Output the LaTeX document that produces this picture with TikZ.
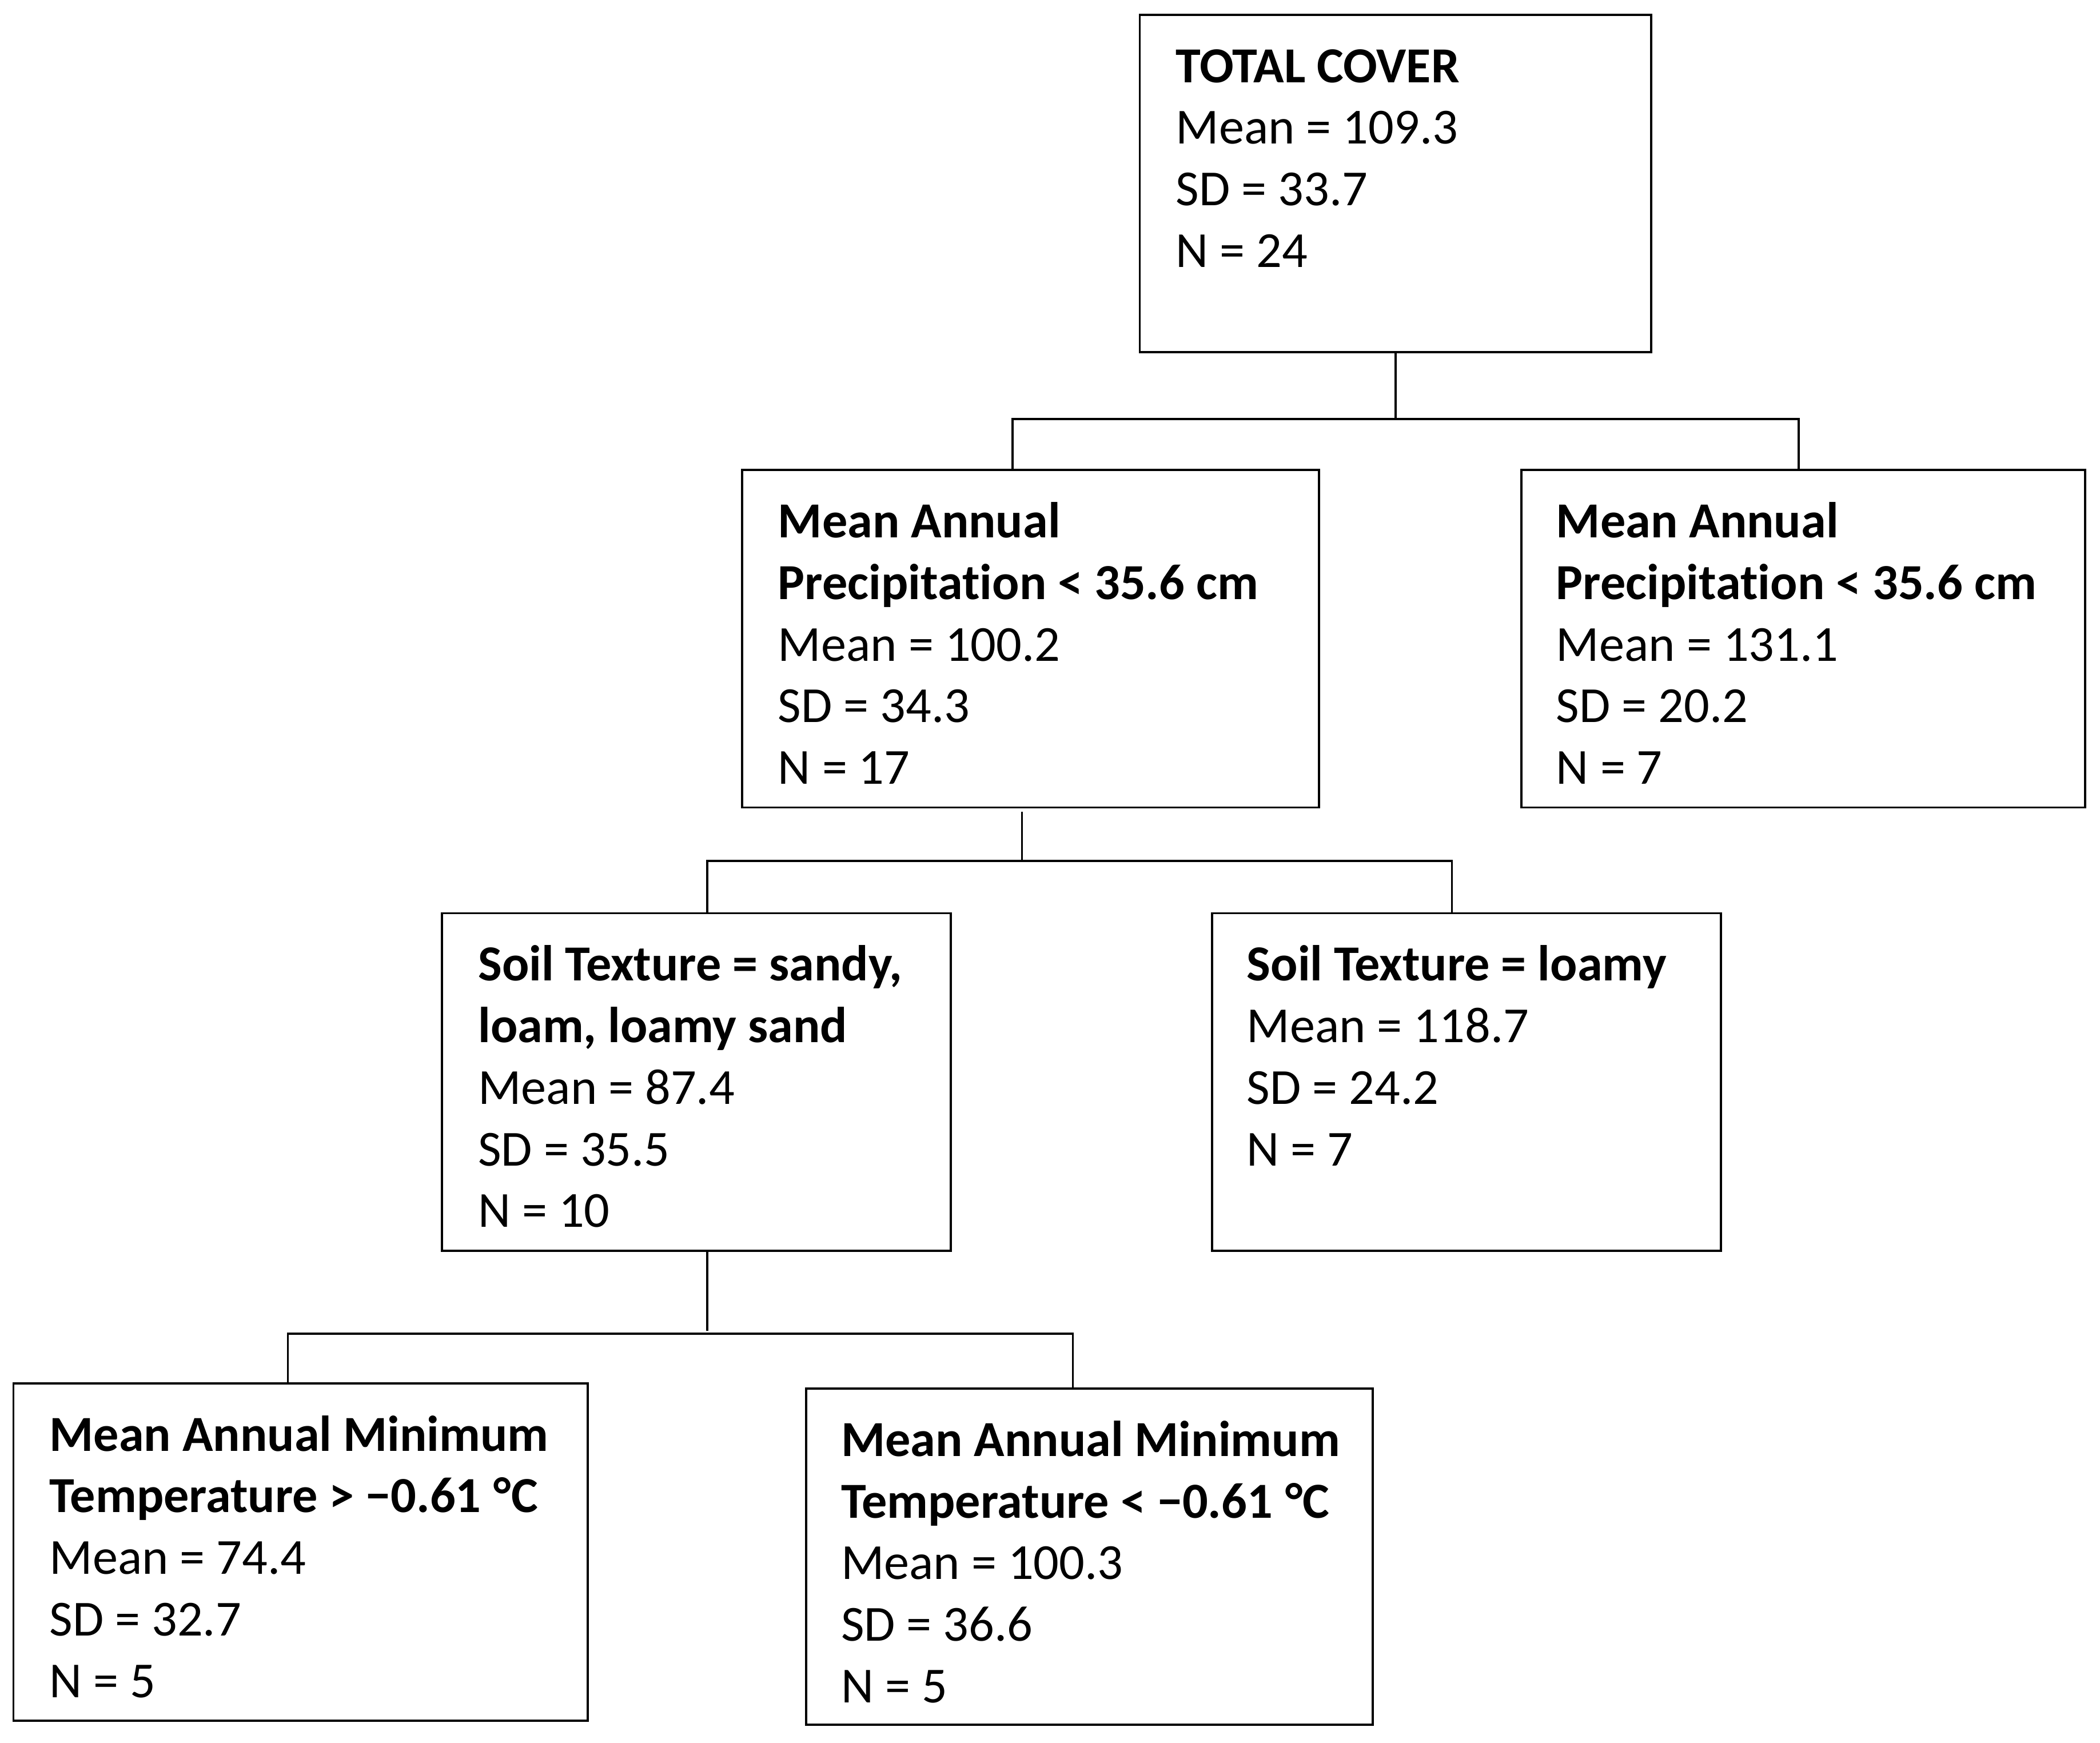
\documentclass[tikz,border=0pt]{standalone}
\usepackage{fontspec}
\setmainfont[Ligatures=NoCommon]{Carlito}
\begin{document}
\begin{tikzpicture}[x=1pt,y=-1pt,
  box/.style={draw, line width=1.6pt, rectangle, anchor=north west, inner sep=0pt, outer sep=0pt},
  txt/.style={anchor=base west, inner sep=0pt, outer sep=0pt, font=\fontsize{37.7}{46}\selectfont},
  conn/.style={line width=1.5pt}]
\useasboundingbox (0,0) rectangle (1568,1301.2);
\newcommand{\lines}[1]{\begin{tabular}[t]{@{}l@{}}#1\end{tabular}}
% boxes
\node[box, minimum width=382pt, minimum height=252pt] (b1) at (851,11) {};
\node[box, minimum width=431pt, minimum height=252pt] (b2) at (554,351) {};
\node[box, minimum width=421pt, minimum height=252pt] (b3) at (1136,351) {};
\node[box, minimum width=380pt, minimum height=252pt] (b4) at (330,682) {};
\node[box, minimum width=380pt, minimum height=252pt] (b5) at (905,682) {};
\node[box, minimum width=429pt, minimum height=252pt] (b6) at (10,1033) {};
\node[box, minimum width=423pt, minimum height=251pt] (b7) at (602,1037) {};
% texts
\node[txt] (t1) at ([xshift=27pt,yshift=-50.5pt]b1.north west) {\lines{\textbf{TOTAL COVER}\\Mean = 109.3\\SD = 33.7\\N = 24}};
\node[txt] (t2) at ([xshift=27pt,yshift=-50.5pt]b2.north west) {\lines{\textbf{Mean Annual}\\\textbf{Precipitation < 35.6 cm}\\Mean = 100.2\\SD = 34.3\\N = 17}};
\node[txt] (t3) at ([xshift=26pt,yshift=-50.5pt]b3.north west) {\lines{\textbf{Mean Annual}\\\textbf{Precipitation < 35.6 cm}\\Mean = 131.1\\SD = 20.2\\N = 7}};
\node[txt] (t4) at ([xshift=27pt,yshift=-50.5pt]b4.north west) {\lines{\textbf{Soil Texture = sandy,}\\\textbf{loam, loamy sand}\\Mean = 87.4\\SD = 35.5\\N = 10}};
\node[txt] (t5) at ([xshift=26pt,yshift=-50.5pt]b5.north west) {\lines{\textbf{Soil Texture = loamy}\\Mean = 118.7\\SD = 24.2\\N = 7}};
\node[txt] (t6) at ([xshift=27pt,yshift=-50.5pt]b6.north west) {\lines{\textbf{Mean Annual Minimum}\\\textbf{Temperature > −0.61 \kern1pt°C}\\Mean = 74.4\\SD = 32.7\\N = 5}};
\node[txt] (t7) at ([xshift=26pt,yshift=-50.5pt]b7.north west) {\lines{\textbf{Mean Annual Minimum}\\\textbf{Temperature < −0.61 \kern1pt°C}\\Mean = 100.3\\SD = 36.6\\N = 5}};
% junctions
\coordinate (j1) at (1042,313);
\coordinate (j2) at (763,643);
\coordinate (j3) at (528,996);
% connectors
\draw[conn] (b1.south) -- (j1);
\draw[conn] ([xshift=-13.5pt]b2.north) |- (j1) -| ([xshift=-3.5pt]b3.north);
\draw[conn] ([xshift=-6.5pt,yshift=-3pt]b2.south) -- (j2);
\draw[conn] ([xshift=8pt]b4.north) |- (j2) -| ([xshift=-11pt]b5.north);
\draw[conn] ([xshift=8pt]b4.south) -- ([yshift=2pt]j3);
\draw[conn] ([xshift=-9.5pt]b6.north) |- (j3) -| ([xshift=-12.5pt]b7.north);
\end{tikzpicture}
\end{document}
